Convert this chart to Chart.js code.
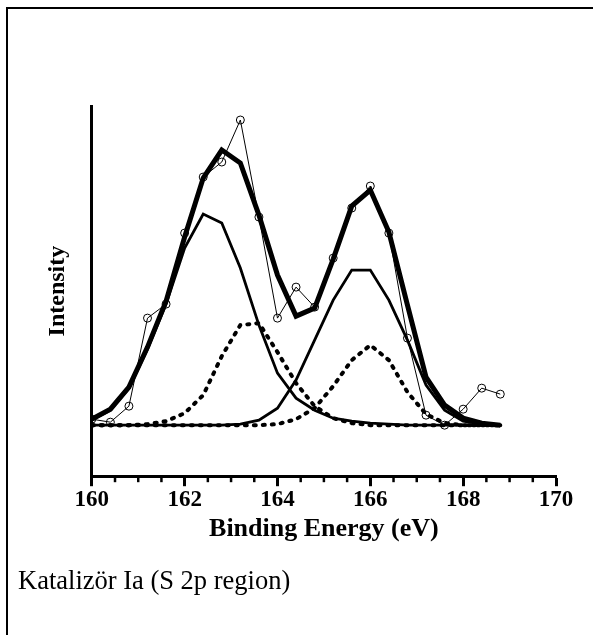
<!DOCTYPE html>
<html>
<head>
<meta charset="utf-8">
<script src="https://cdn.jsdelivr.net/npm/chart.js@4"></script>
<style>
  html, body { margin: 0; padding: 0; background: #fff; }
  #wrap { position: relative; width: 593px; height: 635px; overflow: hidden; }
  #frame { position: absolute; left: 6px; top: 7px; width: 620px; height: 660px; border-left: 2px solid #000; border-top: 2px solid #000; }
  #caption { position: absolute; left: 18px; top: 565px; font-family: "Liberation Serif", serif; font-size: 26.5px; color: #000; }
  canvas { position: absolute; left: 0; top: 0; }
</style>
</head>
<body>
<div id="wrap">
  <div id="frame"></div>
  <canvas id="xps" width="593" height="635"></canvas>
  <div id="caption">Katalizör Ia (S 2p region)</div>
</div>
<script>
// binding energy (eV) of the measured points
const energy = [160.0, 160.4, 160.8, 161.2, 161.6, 162.0, 162.4, 162.8, 163.2, 163.6, 164.0, 164.4,
                164.8, 165.2, 165.6, 166.0, 166.4, 166.8, 167.2, 167.6, 168.0, 168.4, 168.8];
// intensities (arbitrary units)
const measured  = [570, 540, 700, 1580, 1720, 2430, 2990, 3140, 3560, 2590, 1580, 1890,
                   1690, 2180, 2680, 2900, 2430, 1380, 610, 510, 670, 880, 820];
const fitSum    = [570, 670, 890, 1290, 1750, 2390, 2980, 3260, 3130, 2610, 2010, 1600,
                   1680, 2170, 2700, 2860, 2440, 1710, 990, 710, 580, 530, 510];
const comp1     = [560, 660, 880, 1270, 1720, 2280, 2620, 2530, 2080, 1510, 1030, 780,
                   660, 580, 550, 530, 520, 510, 510, 510, 510, 510, 510];
const comp1Dash = [510, 510, 510, 520, 550, 630, 810, 1200, 1510, 1530, 1240, 930,
                   700, 580, 530, 510, 510, 510, 510, 510, 510, 510, 510];
const comp2     = [510, 510, 510, 510, 510, 510, 510, 510, 520, 560, 680, 960,
                   1360, 1760, 2060, 2060, 1760, 1360, 910, 660, 550, 520, 510];
const comp2Dash = [510, 510, 510, 510, 510, 510, 510, 510, 510, 510, 520, 570,
                   680, 900, 1160, 1310, 1160, 840, 620, 530, 510, 510, 510];
const xTicks = [160, 162, 164, 166, 168, 170];

function pts(vals) {
    return energy.map((e, i) => ({ x: e, y: vals[i] }));
}

function lineSet(vals, width, dash) {
    return {
        data: pts(vals),
        borderColor: '#000',
        borderWidth: width,
        borderDash: dash || [],
        borderCapStyle: dash ? 'round' : 'butt',
        pointRadius: 0,
        tension: 0,
        fill: false
    };
}

// short ticks every 0.5 eV between the labelled ones
const minorTicks = {
    id: 'minorTicks',
    afterDraw(chart) {
        const sx = chart.scales.x;
        const ctx = chart.ctx;
        const y0 = chart.chartArea.bottom;
        ctx.save();
        ctx.strokeStyle = '#000';
        ctx.lineWidth = 2.5;
        for (let v = sx.min; v <= sx.max; v += 0.5) {
            if (v % 2 === 0) continue;
            const x = sx.getPixelForValue(v);
            ctx.beginPath();
            ctx.moveTo(x, y0);
            ctx.lineTo(x, y0 + 6);
            ctx.stroke();
        }
        ctx.restore();
    }
};

const serif = '"Liberation Serif", "Times New Roman", serif';

new Chart(document.getElementById('xps').getContext('2d'), {
    type: 'line',
    data: {
        datasets: [
            Object.assign(lineSet(measured, 1), {
                pointRadius: 4,
                pointBorderWidth: 1,
                pointBorderColor: '#000',
                pointBackgroundColor: 'rgba(0,0,0,0)'
            }),
            lineSet(fitSum, 5),
            lineSet(comp1, 2.8),
            lineSet(comp2, 2.8),
            lineSet(comp1Dash, 4, [2, 7]),
            lineSet(comp2Dash, 4, [2, 7])
        ]
    },
    plugins: [minorTicks],
    options: {
        responsive: false,
        animation: false,
        layout: { padding: { left: 43, top: 106, right: 37, bottom: 90 } },
        plugins: { legend: { display: false }, tooltip: { enabled: false } },
        scales: {
            x: {
                type: 'linear',
                min: 160,
                max: 170,
                afterBuildTicks: s => { s.ticks = xTicks.map(v => ({ value: v })); },
                ticks: { color: '#000', padding: 0, font: { family: serif, size: 23, weight: 'bold' } },
                grid: { drawOnChartArea: false, tickLength: 10, tickWidth: 3, tickColor: '#000' },
                border: { color: '#000', width: 3 },
                title: {
                    display: true,
                    text: 'Binding Energy (eV)',
                    color: '#000',
                    padding: { top: 0, bottom: 0 },
                    font: { family: serif, size: 26, weight: 'bold' }
                }
            },
            y: {
                min: 0,
                max: 3700,
                ticks: { display: false },
                grid: { display: false },
                border: { color: '#000', width: 3 },
                title: {
                    display: true,
                    text: 'Intensity',
                    color: '#000',
                    padding: { top: 0, bottom: 12 },
                    font: { family: serif, size: 24, weight: 'bold' }
                }
            }
        }
    }
});
</script>
</body>
</html>
